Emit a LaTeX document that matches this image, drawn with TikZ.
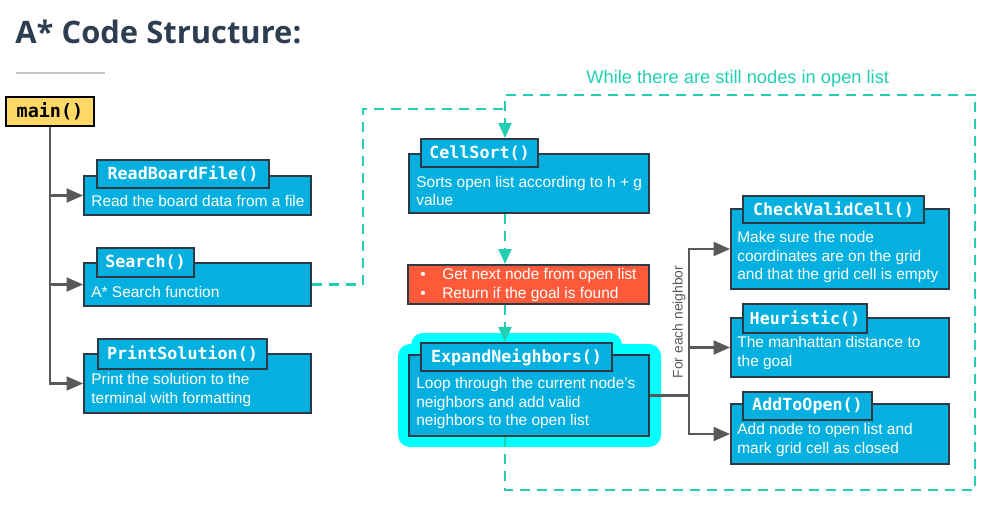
\documentclass[tikz,border=0pt]{standalone}
\usepackage{fontspec}
\setmainfont{Liberation Sans}
\setmonofont{DejaVu Sans Mono}
\newfontfamily\titlefont{Open Sans}
\usetikzlibrary{arrows.meta}

\definecolor{boxblue}{HTML}{03B0E0}
\definecolor{edge}{HTML}{2B3A45}
\definecolor{mainy}{HTML}{FFD966}
\definecolor{getred}{HTML}{FF5A3A}
\definecolor{glowc}{HTML}{00FFFF}
\definecolor{loopc}{HTML}{22CFB3}
\definecolor{wire}{HTML}{595959}
\definecolor{titlec}{HTML}{2C3E50}

\tikzset{
  wh/.style 2 args={minimum width=#1*0.2mm, minimum height=#2*0.2mm},
  fbody/.style={draw=edge, fill=boxblue, line width=1.1pt, inner sep=0pt},
  ftab/.style={fbody, text=white, font=\fontsize{9.5}{11}\selectfont\ttfamily\bfseries},
  ftext/.style={anchor=west, align=left, inner sep=0pt, text=white,
    font=\fontsize{8.8}{10.5}\selectfont},
  conn/.style={draw=wire, line width=1.2pt, -{Triangle[length=3.3mm, width=2.8mm]}},
  flow/.style={draw=loopc, line width=1.2pt, dash pattern=on 2mm off 1.4mm},
  flowtip/.style={flow, -{Triangle[length=3mm, width=2.6mm]}}
}

\begin{document}
\begin{tikzpicture}[x=0.2mm, y=-0.2mm]
  \useasboundingbox (0,0) rectangle (1000,510);

  % heading
  \node[anchor=base west, inner sep=0pt, text=titlec,
    font=\fontsize{17.6}{20}\selectfont\titlefont\bfseries] (title) at (15,43) {A* Code Structure:};
  \draw[black!22, line width=0.6pt] (16,73) -- (105,73);

  % glow behind ExpandNeighbors
  \fill[glowc, rounded corners=2.4mm] (398,344) rectangle (661,447);
  \fill[glowc, rounded corners=2.4mm] (411,333) rectangle (622,385);

  % main and its calls
  \node[fill=mainy, draw=black, line width=1.1pt, wh={88}{29}, inner sep=0pt,
    font=\fontsize{10.5}{12}\selectfont\ttfamily\bfseries] (main) at (50,111.5) {main()};

  \node[fbody, wh={227}{39}] (readB) at (197.5,195.5) {};
  \node[ftab, wh={172}{28}] (readH) at (183,174) {ReadBoardFile()};
  \node[ftext] (readT) at (91,201) {Read the board data from a file};

  \node[fbody, wh={227}{43}] (searchB) at (197.5,284.5) {};
  \node[ftab, wh={97}{29}] (searchH) at (145.5,262.5) {Search()};
  \node[ftext] (searchT) at (91,292) {A* Search function};

  \node[fbody, wh={227}{59}] (printB) at (197.5,383.5) {};
  \node[ftab, wh={169}{30}] (printH) at (182.5,354) {PrintSolution()};
  \node[ftext] (printT) at (91,390) {Print the solution to the\\terminal with formatting};

  % search loop
  \node[fbody, wh={240}{59}] (sortB) at (529,183.5) {};
  \node[ftab, wh={117}{28}] (sortH) at (479.5,153) {CellSort()};
  \node[ftext] (sortT) at (416,191) {Sorts open list according to h + g\\value};

  \node[fbody, fill=getred, wh={241}{39}] (getB) at (528.5,284.5) {};
  \node[ftext] (getT) at (420,285)
    {\textbullet\hspace{9.4pt}Get next node from open list\\\textbullet\hspace{9.4pt}Return if the goal is found};

  \node[fbody, wh={240}{81}] (expandB) at (529,395.5) {};
  \node[ftab, wh={191}{28}] (expandH) at (516.5,357) {ExpandNeighbors()};
  \node[ftext] (expandT) at (416,403)
    {Loop through the current node's\\neighbors and add valid\\neighbors to the open list};

  % per neighbor
  \node[fbody, wh={218}{80}] (checkB) at (840,249) {};
  \node[ftab, wh={181}{27}] (checkH) at (833.5,209.5) {CheckValidCell()};
  \node[ftext] (checkT) at (737,257)
    {Make sure the node\\coordinates are on the grid\\and that the grid cell is empty};

  \node[fbody, wh={218}{59}] (heurB) at (840,347.5) {};
  \node[ftab, wh={124}{29}] (heurH) at (805,318.5) {Heuristic()};
  \node[ftext] (heurT) at (737,353) {The manhattan distance to\\the goal};

  \node[fbody, wh={218}{60}] (addB) at (840,434) {};
  \node[ftab, wh={129}{28}] (addH) at (807.5,406) {AddToOpen()};
  \node[ftext] (addT) at (737,440) {Add node to open list and\\mark grid cell as closed};

  \node[rotate=90, inner sep=0pt, text=wire, font=\fontsize{7.9}{9}\selectfont] (forL) at (679,322) {For each neighbor};
  \node[anchor=west, inner sep=0pt, text=loopc, font=\fontsize{10.4}{12}\selectfont] (loopL) at (586,79)
    {While there are still nodes in open list};

  % calls from main
  \draw[conn] (main.south) |- (readB.west);
  \draw[conn] (main.south) |- (searchB.west);
  \draw[conn] (main.south) |- (printB.west);

  % calls per neighbor
  \coordinate (fork) at (689,395.5);
  \draw[wire, line width=1.2pt] (expandB.east) -- (fork);
  \draw[conn] (fork) |- (checkB.west);
  \draw[conn] (fork) |- (heurB.west);
  \draw[conn] (fork) |- (addB.west);

  % the loop
  \coordinate (entry) at (505,109);
  \coordinate (loopNE) at (975,95);
  \coordinate (loopSE) at (975,490);
  \draw[flow] (searchB.east) -- ++(51,0) |- (entry);
  \draw[flowtip] (expandB.south -| entry) |- (loopSE) -- (loopNE) -| (sortH.north -| entry);
  \draw[flowtip] (sortB.south -| entry) -- (getB.north -| entry);
  \draw[flowtip] (getB.south -| entry) -- (expandH.north -| entry);
\end{tikzpicture}
\end{document}
